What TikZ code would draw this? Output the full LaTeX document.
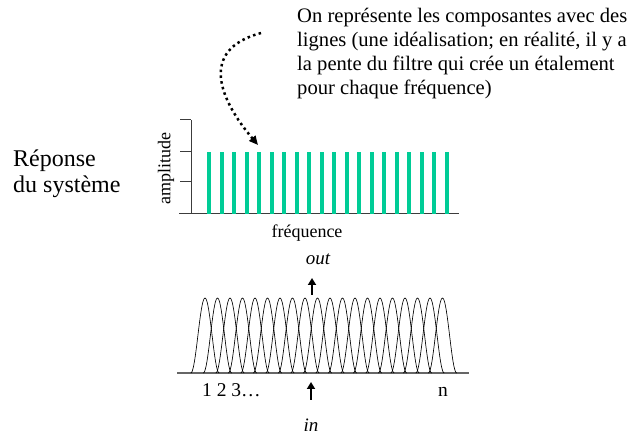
\documentclass[tikz,border=0pt]{standalone}
\usepackage{fontspec}
\setmainfont{Liberation Serif}
\usetikzlibrary{arrows.meta}
\definecolor{comp}{RGB}{0,204,150}
\definecolor{axisgray}{RGB}{60,60,60}

\begin{document}
\begin{tikzpicture}[
    x=1pt, y=-1pt,
    axisline/.style={draw=axisgray, line width=1pt},
    bar/.style={draw=comp, line width=4pt},
    filt/.style={line width=0.65pt, black},
    note/.style={inner sep=0pt, align=left, font=\fontsize{20.6}{24}\selectfont},
    lbl/.style={inner sep=0pt, font=\fontsize{18}{20}\selectfont},
    ionode/.style={inner sep=0pt, font=\fontsize{19}{20}\selectfont\itshape},
    thick arr/.style={-{Triangle[length=7pt,width=8pt]}, line width=2.4pt},
    dotarr/.style={-{Triangle[length=9pt,width=8pt]}, line width=2.5pt,
                   dash pattern=on 2.5pt off 3.3pt},
]
\useasboundingbox (0,0) rectangle (633,438);

% ══════════════════════════════════════
%  TEXTS
% ══════════════════════════════════════

% System response label
\node[anchor=north west, inner sep=0pt, align=left,
      font=\fontsize{24}{26}\selectfont] (resp) at (13,150)
    {Réponse\\du système};

% Annotation
\node[note, anchor=north west] (remark) at (297,8)
    {On représente les composantes avec des\\
     lignes (une idéalisation; en réalité, il y a\\
     la pente du filtre qui crée un étalement\\
     pour chaque fréquence)};

% ══════════════════════════════════════
%  TOP: spectrum with lines
% ══════════════════════════════════════

\draw[axisline] (179,214) -- (459,214);
\draw[axisline] (191,214) -- (191,120);
\foreach \y in {120,152,182}
    \draw[axisline] (180,\y) -- (191,\y);

\foreach \i in {0,...,19}
    \draw[bar] ({209+12.5*\i},214) -- ({209+12.5*\i},152);

\node[lbl, rotate=90] (ampl) at (166,169) {amplitude};
\node[lbl] (freq) at (307,233) {fréquence};

% ══════════════════════════════════════
%  BOTTOM: filter bank
% ══════════════════════════════════════

\draw[draw=gray!80!black, line width=1.1pt] (177,373) -- (469,373);
\foreach \i in {0,...,19}
    \draw[filt] plot[domain=-14.2:14.2, samples=41, smooth]
        ({205+12.5*\i+\x},{373-37.5*(1+cos(180*\x/14.2))});

\node[inner sep=0pt, anchor=base west, font=\fontsize{19.5}{20}\selectfont]
    (nums) at (202,397) {1 2 3\ldots};
\node[inner sep=0pt, anchor=base, font=\fontsize{19.5}{20}\selectfont]
    (nlab) at (443,397) {n};

\node[ionode] (out) at (318,259) {out};
\node[ionode] (in) at (311,425) {in};

% ══════════════════════════════════════
%  ARROWS
% ══════════════════════════════════════

\coordinate (outfoot) at (312,295);
\coordinate (outtip) at (312,278);
\coordinate (infoot) at (311,400);
\coordinate (intip) at (311,382);
\draw[thick arr] (outfoot) -- (outtip);
\draw[thick arr] (infoot) -- (intip);

\coordinate (dotstart) at (261,33);
\coordinate (dottip) at (258,145);
\draw[dotarr] (dotstart) .. controls (198,50) and (220,100) .. (dottip);

\end{tikzpicture}
\end{document}
